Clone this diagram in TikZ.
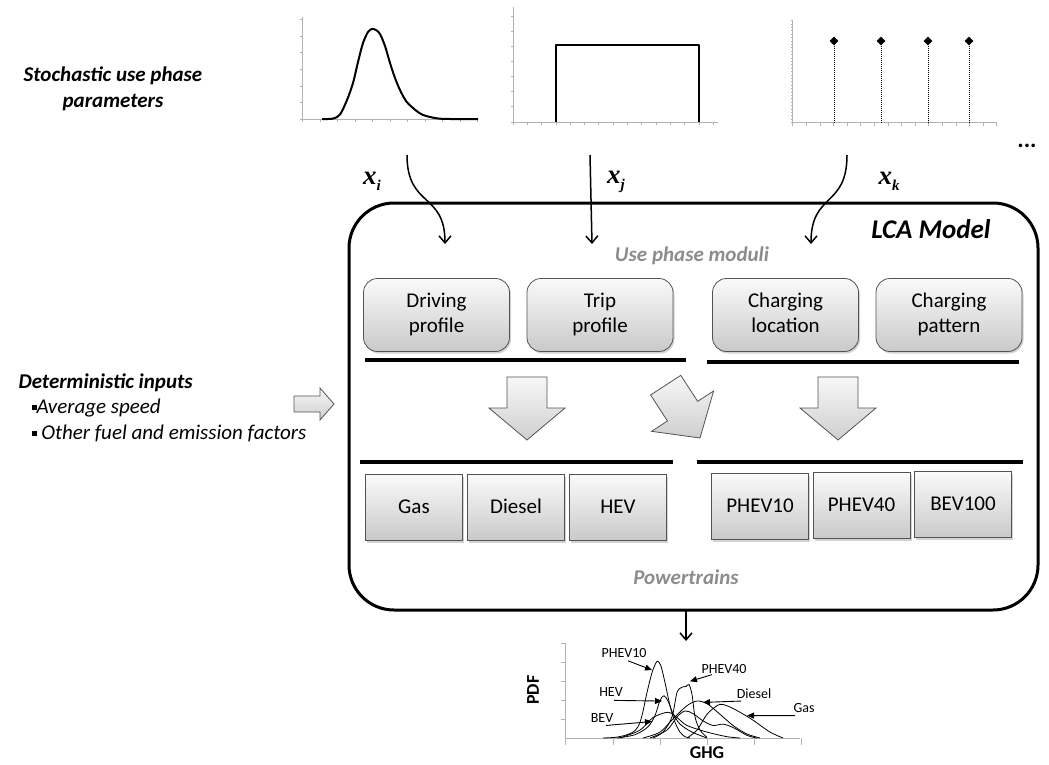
\documentclass[tikz,border=0pt]{standalone}
\usepackage{fontspec}
\setmainfont{Carlito}
\newfontfamily\serifx{Liberation Serif}
\usetikzlibrary{shadows,arrows.meta,shapes.geometric}

\begin{document}
\begin{tikzpicture}[x=1pt,y=-1pt,
  axisline/.style={gray!60, line width=0.8pt},
  density/.style={line width=2pt, line join=round},
  module/.style={draw=gray!65!black, line width=0.8pt, rounded corners=14pt,
    top color=gray!4, bottom color=gray!42, minimum width=146pt, minimum height=73pt,
    align=center, font=\fontsize{21}{25}\selectfont,
    drop shadow={shadow xshift=1.5pt, shadow yshift=-2pt, opacity=0.35}},
  train/.style={draw=gray!65!black, line width=0.8pt,
    top color=gray!4, bottom color=gray!42, minimum width=97pt, minimum height=66pt,
    text height=15pt, text depth=4pt, font=\fontsize{21}{25}\selectfont,
    drop shadow={shadow xshift=1.5pt, shadow yshift=-2pt, opacity=0.35}},
  bar/.style={line width=3.5pt},
  blockarrow/.style={draw=gray!65!black, line width=0.8pt, top color=gray!6, bottom color=gray!38},
  flow/.style={line width=1.5pt, -{Straight Barb[length=7pt,width=12pt]}},
  callout/.style={line width=0.9pt, -{Triangle[length=7pt,width=6pt]}},
  pdfcurve/.style={line width=0.8pt, smooth},
  side/.style={font=\bfseries\itshape\fontsize{21}{26}\selectfont},
  sub/.style={font=\itshape\fontsize{21}{25}\selectfont, anchor=west},
  grey/.style={text=gray!90, font=\bfseries\itshape\fontsize{21}{24}\selectfont},
  tag/.style={font=\fontsize{14}{16}\selectfont},
  xlabel/.style={font=\serifx\bfseries\itshape\fontsize{27}{27}\selectfont}
]
\useasboundingbox (0,0) rectangle (1049,765);

% ---------- three input distributions ----------
% continuous, skewed
\draw[axisline] (302.7,17) -- (302.7,119) -- (478,119);
\foreach \i in {0,...,10} \draw[axisline] (302.7+17.5*\i,119) -- ++(0,3);
\foreach \i in {0,...,6} \draw[axisline] (302.7,119.3-16.6*\i) -- ++(-2.5,0);
\draw[density] plot[smooth] coordinates {(322,119) (333,118.6) (340,114.5) (347,100) (353,83)
  (358,62) (363,43) (368,32) (372,29) (376,30) (380,34) (385,46) (390,63) (395,78) (400,90)
  (406,101) (413,108) (421,114) (430,117) (440,118.7) (450,119) (478,119)};

% uniform
\draw[axisline] (513,7) -- (513,122) -- (718,122);
\foreach \i in {0,...,14} \draw[axisline] (513+14.3*\i,122) -- ++(0,3);
\foreach \i in {0,...,7} \draw[axisline] (513,122-15.1*\i) -- ++(-2.5,0);
\draw[density] (555.7,122) -- (555.7,45) -- (699.3,45) -- (699.3,122);

% discrete
\draw[axisline] (792.7,20) -- (792.7,122.7) -- (996.7,122.7);
\foreach \i in {0,...,15} \draw[axisline] (792.7+13.6*\i,122.7) -- ++(0,3);
\foreach \i in {0,...,30} \draw[axisline] (792.7,122.7-3.4*\i) -- ++(-2,0);
\foreach \n/\x in {m1/834,m2/881,m3/928,m4/969}{
  \node[diamond, fill=black, inner sep=0pt, minimum width=9pt, minimum height=9pt] (\n) at (\x,41) {};
  \draw[densely dotted, line width=1pt] (\n.south) -- (\x,122.7);
}
\node[font=\bfseries\fontsize{24}{24}\selectfont] (more) at (1027,146) {...};

% ---------- left-hand texts ----------
\node[side, align=center] (stoch) at (113,89) {Stochastic use phase\\parameters};
\node[side, anchor=west] (det) at (15,383) {Deterministic inputs};
\node[sub] (avg) at (28,408) {\rule[3pt]{5pt}{5pt}Average speed};
\node[sub] (oth) at (28,433) {\rule[3pt]{5pt}{5pt} Other fuel and emission factors};
\path[blockarrow] (294,396) -- (320,396) -- (320,388) -- (334,404) -- (320,420) -- (320,412) -- (294,412) -- cycle;

% ---------- LCA model frame ----------
\node[draw, line width=3pt, rounded corners=45pt, minimum width=689pt, minimum height=407pt] (lca) at (693.5,406.5) {};
\node[font=\bfseries\itshape\fontsize{27}{27}\selectfont] (title) at (931,229) {LCA Model};
\node[grey] (usephase) at (692,256) {Use phase moduli};

% parameter labels and their arrows
\node[xlabel] (xi) at (372,181) {x\raisebox{-6pt}{\fontsize{15}{15}\selectfont\itshape i}};
\node[xlabel] (xj) at (616,182) {x\raisebox{-6pt}{\fontsize{15}{15}\selectfont\itshape j}};
\node[xlabel] (xk) at (889,181) {x\raisebox{-6pt}{\fontsize{15}{15}\selectfont\itshape k}};
\coordinate (si) at (407,155); \coordinate (ei) at (445,244);
\coordinate (sj) at (590,155); \coordinate (ej) at (592,244);
\coordinate (sk) at (847,155); \coordinate (ek) at (811,244);
\draw[flow] (si) .. controls (407,208) and (445,192) .. (ei);
\draw[flow] (sj) -- (ej);
\draw[flow] (sk) .. controls (847,208) and (811,192) .. (ek);

% use phase modules
\node[module] (drive) at (436.5,315) {Driving\strut\\profile\strut};
\node[module] (trip) at (600,315) {Trip\strut\\profile\strut};
\node[module] (chloc) at (785.5,315) {Charging\strut\\location\strut};
\node[module] (chpat) at (949,315) {Charging\strut\\pattern\strut};
\draw[bar] (365,360) -- (686,360);
\draw[bar] (707,362) -- (1019,362);

% block arrows
\begin{scope}[shift={(527,440)}]
  \path[blockarrow] (-20,-63) -- (20,-63) -- (20,-32) -- (38,-32) -- (0,0) -- (-38,-32) -- (-20,-32) -- cycle;
\end{scope}
\begin{scope}[shift={(700,438)}, rotate=33]
  \path[blockarrow] (-18,-63) -- (18,-63) -- (18,-32) -- (37,-32) -- (0,0) -- (-37,-32) -- (-18,-32) -- cycle;
\end{scope}
\begin{scope}[shift={(838,440)}]
  \path[blockarrow] (-20,-63) -- (20,-63) -- (20,-32) -- (38,-32) -- (0,0) -- (-38,-32) -- (-20,-32) -- cycle;
\end{scope}

% powertrains
\draw[bar] (360,462) -- (673,462);
\draw[bar] (697,462) -- (1023,462);
\node[train] (gas) at (414,507.5) {Gas};
\node[train] (diesel) at (516,507.5) {Diesel};
\node[train] (hev) at (618,507.5) {HEV};
\node[train] (phev10) at (760,506.5) {PHEV10};
\node[train] (phev40) at (861.5,505.5) {PHEV40};
\node[train] (bev100) at (963,504.5) {BEV100};
\node[grey] (ptrain) at (686,577) {Powertrains};

% ---------- output distribution ----------
\coordinate (out0) at (686,610); \coordinate (out1) at (686,641);
\draw[flow] (out0) -- (out1);

\draw[axisline] (565.7,643) -- (565.7,738) -- (800,738);
\foreach \i in {0,...,4} \draw[axisline] (565.7,643+19*\i) -- ++(-5,0);
\foreach \i in {0,...,5} \draw[axisline] (565.7+47.2*\i,738) -- ++(0,7);

\begin{scope}[shift={(0,256.86)}, yscale=0.66]
\draw[pdfcurve] plot coordinates {(603,729) (615,728) (625,725) (633,720) (638,712) (642,695)
  (647,660) (652,630) (656,615) (658,613) (661,620) (665,645) (670,680) (675,705) (680,720) (685,727) (690,729)};
\draw[pdfcurve] plot coordinates {(617,729) (635,724) (648,712) (655,695) (660,672) (664,665)
  (668,673) (673,692) (680,708) (692,720) (707,729)};
\draw[pdfcurve] plot coordinates {(620,729) (640,717) (653,698) (668,690) (677,698) (687,710)
  (707,720) (727,727) (740,729)};
\draw[pdfcurve] plot coordinates {(653,729) (663,720) (672,697) (677,660) (682,652) (686,651)
  (689,648) (692,663) (695,697) (700,717) (707,728)};
\draw[pdfcurve] plot coordinates {(643,729) (660,720) (673,700) (687,680) (697,673) (707,677)
  (720,693) (733,710) (747,723) (760,729)};
\draw[pdfcurve] plot coordinates {(687,729) (697,717) (707,693) (717,680) (722,678) (730,682)
  (740,690) (753,702) (770,720) (783,729)};
\draw[pdfcurve] plot coordinates {(650,729) (667,717) (677,697) (685,688) (693,692) (703,703)
  (713,710) (723,708) (733,713) (747,725) (757,729)};

\node[tag] (lphev10) at (624,600) {PHEV10};
\node[tag] (lphev40) at (724,624) {PHEV40};
\node[tag] (lhev) at (611,660) {HEV};
\node[tag] (ldiesel) at (754,662) {Diesel};
\node[tag] (lgas) at (804,684) {Gas};
\node[tag] (lbev) at (602,698) {BEV};
\coordinate (pk10) at (652,626);
\coordinate (pk40) at (690,643);
\coordinate (pkhev) at (662,673);
\coordinate (pkdie) at (703,675);
\coordinate (pkgas) at (747,695);
\coordinate (pkbev) at (652,704);
\draw[callout] (628,612) -- (pk10);
\draw[callout] (712,633) -- (pk40);
\draw[callout] (614,672) -- (pkhev);
\draw[callout] (741,673) -- (pkdie);
\draw[callout] (795,695) -- (pkgas);
\draw[callout] (606,710) -- (pkbev);
\end{scope}

\node[rotate=90, font=\bfseries\fontsize{18}{18}\selectfont] (pdf) at (533,690) {PDF};
\node[font=\bfseries\fontsize{18}{18}\selectfont] (ghg) at (707,753) {GHG};
\end{tikzpicture}
\end{document}
